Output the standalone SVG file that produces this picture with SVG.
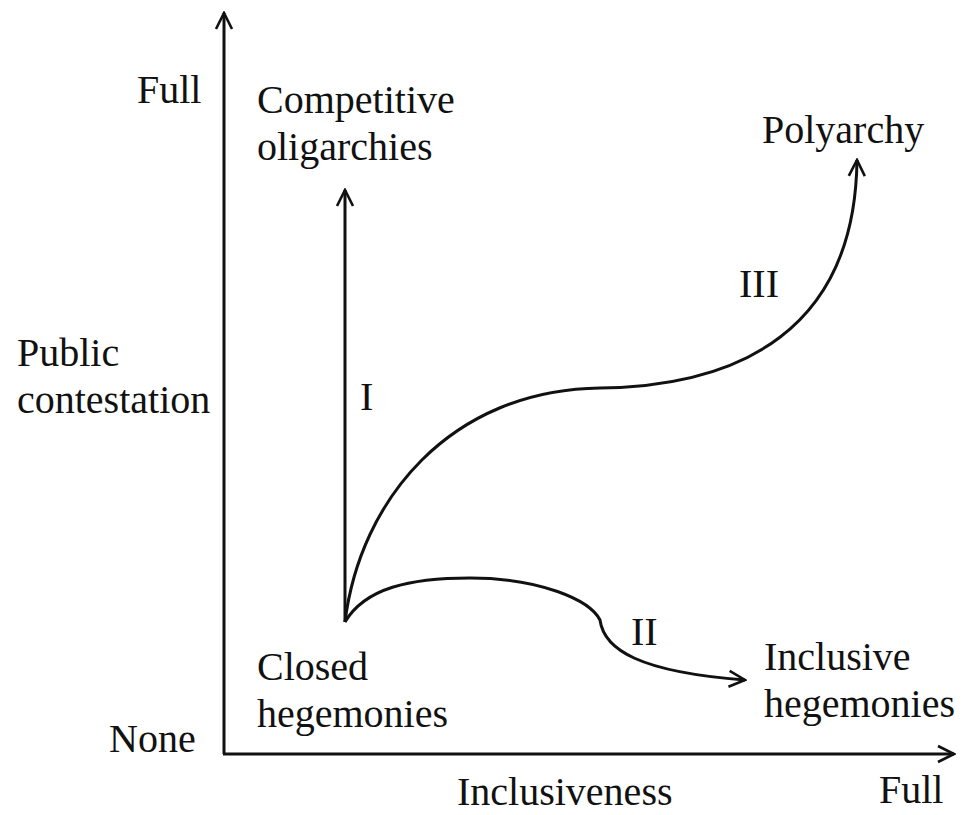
<svg xmlns="http://www.w3.org/2000/svg" width="962" height="815" viewBox="0 0 962 815">
<style>
text{font-family:"Liberation Serif","Times New Roman",serif;font-size:40px;fill:#111}
.c{fill:none;stroke:#111;stroke-width:3}
</style>
<defs>
<marker id="ah" viewBox="0 0 20 20" refX="18" refY="10" markerWidth="20" markerHeight="20" markerUnits="userSpaceOnUse" orient="auto">
<polyline points="2,2 18,10 2,18" fill="none" stroke="#111" stroke-width="2.6"/>
</marker>
</defs>
<rect width="962" height="815" fill="#fff"/>
<g id="connectors">
<line class="c" x1="224" y1="754" x2="224" y2="13" marker-end="url(#ah)"/>
<line class="c" x1="223" y1="754" x2="954" y2="754" marker-end="url(#ah)"/>
<line class="c" x1="345" y1="622" x2="345" y2="190" marker-end="url(#ah)"/>
<path class="c" d="M345,622 C360,500 450,390 600,388 C740,386 855,330 857,160" marker-end="url(#ah)"/>
<path class="c" d="M345,622 C365,588 410,578 470,578 C540,578 590,600 600,620 C604,650 640,672 745,680" marker-end="url(#ah)"/>
</g>
<g id="axis-labels">
<text x="137" y="103">Full</text>
<text x="109" y="752">None</text>
<text x="17" y="366">Public</text>
<text x="17" y="413">contestation</text>
<text x="457" y="805">Inclusiveness</text>
<text x="879" y="803">Full</text>
</g>
<g id="node-competitive"><text x="257" y="113">Competitive</text><text x="257" y="160">oligarchies</text></g>
<g id="node-polyarchy"><text x="762" y="143">Polyarchy</text></g>
<g id="node-closed"><text x="257" y="680">Closed</text><text x="257" y="727">hegemonies</text></g>
<g id="node-inclusive"><text x="764" y="670">Inclusive</text><text x="764" y="717">hegemonies</text></g>
<g id="path-labels">
<text x="360" y="410">I</text>
<text x="631" y="645">II</text>
<text x="739" y="297">III</text>
</g>
</svg>
